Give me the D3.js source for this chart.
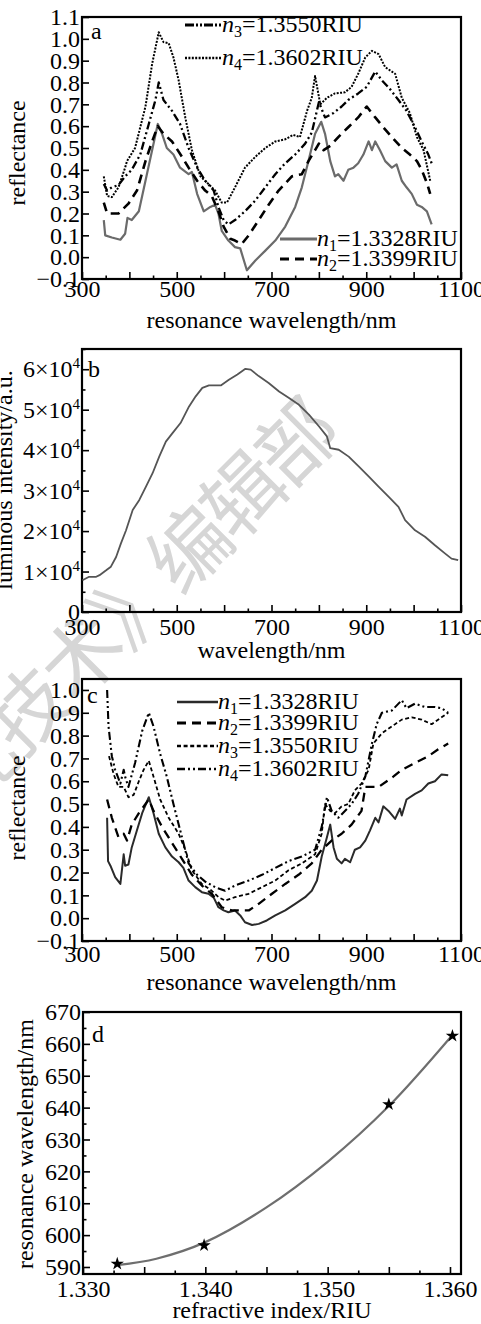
<!DOCTYPE html>
<html>
<head>
<meta charset="utf-8">
<script src="https://cdn.jsdelivr.net/npm/d3@7"></script>
<style>
  body { margin: 0; background: #fff; }
  svg { display: block; font-family: "Liberation Serif", "Times New Roman", serif; }
</style>
</head>
<body>
<svg></svg>
<script>
const width = 481;
const height = 1324;

// ---- data ----
const idx = ["1", "2", "3", "4"];
const riu = ["1.3328", "1.3399", "1.3550", "1.3602"];

// panel a: reflectance vs resonance wavelength
const aN1 = [[346,0.17],[349,0.10],[363,0.09],[381,0.08],[391,0.107],[396,0.18],[405,0.17],[420,0.21],[434,0.35],[448,0.49],[460,0.61],[469,0.565],[479,0.50],[493,0.47],[507,0.41],[525,0.38],[532,0.39],[543,0.29],[557,0.21],[571,0.23],[581,0.24],[588,0.20],[595,0.12],[609,0.076],[623,0.046],[634,0.04],[648,-0.06],[666,-0.015],[687,0.03],[708,0.076],[729,0.14],[750,0.23],[764,0.32],[778,0.44],[792,0.565],[805,0.62],[813,0.565],[824,0.44],[834,0.37],[841,0.38],[852,0.35],[862,0.40],[873,0.41],[883,0.43],[894,0.47],[905,0.53],[912,0.49],[919,0.53],[929,0.49],[940,0.44],[954,0.41],[964,0.425],[975,0.35],[985,0.32],[996,0.29],[1007,0.24],[1017,0.23],[1028,0.21],[1038,0.15]];
const aN2 = [[346,0.25],[353,0.20],[377,0.20],[398,0.245],[416,0.305],[434,0.44],[448,0.53],[460,0.60],[472,0.565],[490,0.53],[511,0.46],[525,0.41],[543,0.35],[560,0.305],[574,0.28],[588,0.21],[599,0.14],[613,0.084],[623,0.076],[637,0.06],[652,0.10],[673,0.17],[694,0.24],[715,0.305],[743,0.37],[764,0.38],[778,0.44],[792,0.49],[800,0.52],[810,0.49],[824,0.51],[841,0.55],[862,0.595],[883,0.64],[901,0.69],[919,0.64],[936,0.595],[954,0.55],[975,0.50],[992,0.47],[1007,0.44],[1017,0.40],[1028,0.34],[1035,0.29]];
const aN3 = [[346,0.335],[353,0.305],[363,0.32],[377,0.33],[391,0.37],[405,0.40],[423,0.47],[441,0.61],[455,0.72],[462,0.80],[472,0.72],[490,0.67],[507,0.61],[525,0.50],[543,0.41],[560,0.35],[578,0.305],[588,0.23],[599,0.17],[609,0.15],[623,0.17],[644,0.21],[666,0.26],[687,0.32],[708,0.38],[729,0.43],[750,0.47],[771,0.52],[785,0.57],[800,0.71],[813,0.64],[831,0.66],[848,0.69],[862,0.72],[883,0.75],[901,0.78],[919,0.85],[933,0.81],[950,0.77],[968,0.72],[985,0.67],[1003,0.595],[1017,0.53],[1031,0.47],[1038,0.43]];
const aN4 = [[346,0.37],[353,0.28],[363,0.275],[377,0.32],[391,0.41],[395,0.44],[412,0.50],[434,0.69],[448,0.885],[462,1.03],[472,0.985],[483,0.98],[493,0.915],[504,0.81],[518,0.64],[532,0.49],[550,0.37],[567,0.335],[581,0.305],[595,0.25],[606,0.25],[623,0.32],[644,0.41],[666,0.46],[687,0.50],[708,0.53],[729,0.54],[746,0.56],[760,0.55],[775,0.67],[785,0.73],[792,0.83],[803,0.70],[817,0.73],[834,0.75],[855,0.755],[869,0.78],[883,0.84],[898,0.915],[912,0.945],[926,0.93],[940,0.87],[961,0.84],[975,0.73],[992,0.66],[1007,0.55],[1021,0.49],[1035,0.35]];

// panel b: luminous intensity of the source
const bLamp = [[301,7850],[315,8700],[330,8700],[337,9100],[351,10300],[361,11200],[372,13600],[382,16900],[393,20200],[407,25200],[421,27700],[435,31000],[449,34300],[463,38400],[477,42100],[491,44200],[508,46700],[526,50800],[540,53300],[554,55400],[568,56000],[593,56000],[610,57400],[628,58700],[645,60100],[656,59900],[673,58300],[694,56600],[716,54500],[737,52900],[758,51200],[779,48800],[800,45900],[817,43400],[824,40500],[842,40100],[863,38400],[884,36000],[905,33500],[926,31000],[947,28500],[968,26000],[982,22700],[1003,20200],[1024,18600],[1045,16500],[1066,14500],[1080,13200],[1094,12800]];

// panel c: reflectance vs resonance wavelength
const cN1 = [[353,0.44],[355,0.25],[360,0.23],[370,0.18],[381,0.15],[388,0.28],[391,0.23],[398,0.235],[405,0.31],[416,0.385],[427,0.46],[441,0.53],[451,0.46],[462,0.37],[476,0.31],[490,0.27],[504,0.245],[514,0.22],[525,0.165],[539,0.136],[553,0.114],[567,0.107],[578,0.09],[588,0.048],[599,0.034],[609,0.026],[623,0.034],[634,0.012],[644,-0.018],[659,-0.03],[673,-0.025],[690,-0.01],[708,0.012],[729,0.034],[750,0.063],[771,0.092],[785,0.12],[796,0.165],[806,0.27],[817,0.355],[824,0.41],[831,0.31],[838,0.26],[848,0.24],[855,0.26],[866,0.245],[876,0.30],[887,0.31],[898,0.34],[908,0.385],[919,0.44],[926,0.42],[936,0.49],[947,0.47],[961,0.435],[971,0.48],[975,0.45],[985,0.52],[1003,0.545],[1017,0.56],[1031,0.59],[1045,0.60],[1059,0.63],[1073,0.626]];
const cN2 = [[353,0.52],[363,0.44],[377,0.355],[388,0.37],[395,0.34],[405,0.41],[420,0.46],[441,0.52],[451,0.47],[469,0.40],[490,0.33],[511,0.26],[532,0.19],[553,0.143],[574,0.107],[595,0.048],[616,0.034],[652,0.034],[673,0.063],[701,0.107],[729,0.15],[757,0.19],[785,0.24],[806,0.30],[827,0.34],[848,0.37],[869,0.41],[890,0.47],[898,0.575],[926,0.575],[957,0.62],[975,0.65],[1003,0.68],[1031,0.71],[1052,0.74],[1073,0.765]];
const cN3 = [[357,0.71],[367,0.63],[377,0.575],[388,0.575],[398,0.53],[409,0.54],[420,0.60],[430,0.65],[441,0.69],[451,0.62],[465,0.52],[483,0.44],[504,0.37],[518,0.30],[532,0.21],[553,0.15],[574,0.12],[588,0.092],[602,0.077],[623,0.092],[652,0.107],[680,0.136],[708,0.165],[736,0.21],[764,0.24],[792,0.28],[806,0.37],[813,0.50],[824,0.47],[834,0.46],[848,0.49],[862,0.50],[876,0.56],[890,0.59],[905,0.65],[915,0.765],[933,0.81],[954,0.84],[975,0.87],[996,0.88],[1017,0.87],[1038,0.85],[1059,0.88],[1073,0.90]];
const cN4 = [[353,1.0],[356,0.84],[363,0.71],[370,0.65],[381,0.59],[388,0.65],[391,0.62],[398,0.575],[412,0.68],[427,0.82],[441,0.90],[451,0.84],[465,0.72],[479,0.62],[493,0.50],[511,0.355],[525,0.24],[543,0.19],[560,0.16],[581,0.136],[602,0.12],[623,0.143],[652,0.165],[680,0.19],[708,0.22],[736,0.25],[764,0.27],[792,0.30],[806,0.40],[817,0.53],[827,0.47],[841,0.44],[855,0.47],[869,0.50],[883,0.545],[898,0.62],[912,0.765],[922,0.85],[933,0.90],[954,0.91],[975,0.955],[985,0.92],[1003,0.94],[1024,0.925],[1045,0.925],[1059,0.92],[1073,0.90]];

// panel d: resonance wavelength vs refractive index
const dIndex = [1.3328, 1.3399, 1.3550, 1.3602];
const dWave = [591.0, 596.8, 641.0, 662.5];
const dFitIndex = [1.3328, 1.336, 1.340, 1.345, 1.350, 1.355, 1.3602];
const dFitWave = [590.6, 592.6, 597.8, 608.7, 623.0, 640.5, 662.8];

// tick values
const wlTicks = d3.range(300, 1101, 50);
const wlLabels = [300, 500, 700, 900, 1100];
const reflTicks = d3.range(-1, 12).map(i => i / 10);
const lumTicks = d3.range(0, 14).map(i => i * 5000);
const riTicks = d3.range(0, 13).map(i => 1.33 + i * 0.0025);
const riLabels = [1.33, 1.34, 1.35, 1.36];
const rwTicks = d3.range(590, 671, 5);

const svg = d3.select("svg").attr("width", width).attr("height", height);

// faint journal watermark behind the plots
svg.append("text")
  .attr("transform", "translate(188,542) rotate(-45)")
  .attr("x", -500)
  .attr("dominant-baseline", "central")
  .style("font-family", '"Noto Sans CJK SC"')
  .style("font-size", "80px")
  .style("letter-spacing", "-4px")
  .style("fill", "#d6d6d6")
  .text("《激光技术》编辑部");

const near = (list, d) => list.some(v => Math.abs(v - d) < 1e-9);

function panel(o) {
  const x = d3.scaleLinear().domain(o.xDom).range([o.x0, o.x1]);
  const y = d3.scaleLinear().domain(o.yDom).range([o.y1, o.y0]);
  const g = svg.append("g");

  const clipId = "clip" + o.name;
  svg.append("clipPath").attr("id", clipId)
    .append("rect").attr("x", o.x0).attr("y", o.y0)
    .attr("width", o.x1 - o.x0).attr("height", o.y1 - o.y0);

  // x ticks: minor + major, labels on a subset
  const xt = o.xTicks.map((d, i) => ({ d, major: i % 2 === 0 }));
  const xg = g.append("g").attr("transform", `translate(0,${o.y1})`)
    .call(d3.axisBottom(x).tickValues(o.xTicks)
      .tickSize(-3.5).tickPadding(o.xPad)
      .tickFormat(d => near(o.xLabels, d) ? o.xFmt(d) : ""));
  xg.selectAll(".tick line").attr("y2", (d, i) => xt[i].major ? -7 : -3.5);

  const yg = g.append("g").attr("transform", `translate(${o.x0},0)`)
    .call(d3.axisLeft(y).tickValues(o.yTicks)
      .tickSize(-7).tickPadding(2)
      .tickFormat(d => o.yMajor(d) ? o.yFmt(d) : ""));
  yg.selectAll(".tick line").attr("x2", d => o.yMajor(d) ? 7 : 3.5);

  for (const ax of [xg, yg]) {
    ax.select(".domain").remove();
    ax.selectAll(".tick line").attr("stroke", "#000").attr("stroke-width", 1.6);
    ax.selectAll(".tick text").attr("fill", "#000")
      .style("font-size", "24px").style("font-family", '"Liberation Serif", serif');
  }

  g.append("rect").attr("x", o.x0).attr("y", o.y0)
    .attr("width", o.x1 - o.x0).attr("height", o.y1 - o.y0)
    .attr("fill", "none").attr("stroke", "#000").attr("stroke-width", 2.2);

  g.append("text").attr("x", o.tag[1]).attr("y", o.tag[2])
    .style("font-size", "24px").text(o.tag[0]);

  g.append("text").attr("x", (o.x0 + o.x1) / 2).attr("y", o.y1 + o.xTitleDy)
    .attr("text-anchor", "middle").style("font-size", "24px").text(o.xTitle);

  g.append("text")
    .attr("transform", `translate(${o.yTitleX},${o.yTitleY}) rotate(-90)`)
    .attr("text-anchor", "middle").style("font-size", "24px").text(o.yTitle);

  const plot = svg.append("g").attr("clip-path", `url(#${clipId})`);
  return { x, y, g, yg, plot };
}

function drawLine(p, data, st) {
  p.plot.append("path")
    .datum(data)
    .attr("fill", "none")
    .attr("stroke", st.color)
    .attr("stroke-width", st.width)
    .attr("stroke-dasharray", st.dash)
    .attr("stroke-linejoin", "round")
    .attr("d", d3.line().curve(st.curve || d3.curveLinear)
      .x(d => p.x(d[0])).y(d => p.y(d[1])));
}

function legendItem(g, x0, x1, y, st, i) {
  g.append("line").attr("x1", x0).attr("x2", x1).attr("y1", y).attr("y2", y)
    .attr("stroke", st.color).attr("stroke-width", st.lw || st.width + 0.6)
    .attr("stroke-dasharray", st.ldash || st.dash);
  const t = g.append("text").attr("x", x1).attr("y", y + 7).style("font-size", "24px");
  t.append("tspan").style("font-style", "italic").text("n");
  t.append("tspan").attr("dy", 5).style("font-size", "16px").text(idx[i]);
  t.append("tspan").attr("dy", -5).text("=" + riu[i] + "RIU");
}

// ---------- panel a ----------
const styleA = [
  { color: "#6b6b6b", width: 2.2, dash: null },
  { color: "#000", width: 2.6, dash: "9,6" },
  { color: "#000", width: 2.3, dash: "8,3,2,3,2,3", ldash: "9,2,2,2,2,2" },
  { color: "#000", width: 2.0, dash: "2,1.4" }
];
const pa = panel({
  name: "a", x0: 82, x1: 461, y0: 17, y1: 279,
  xDom: [300, 1100], yDom: [-0.1, 1.1],
  xTicks: wlTicks, xLabels: wlLabels, xFmt: d3.format("d"), xPad: 1,
  yTicks: reflTicks, yMajor: () => true, yFmt: d3.format(".1f"),
  tag: ["a", 91, 39],
  xTitle: "resonance wavelength/nm", xTitleDy: 49,
  yTitle: "reflectance", yTitleX: 25, yTitleY: 153
});
[aN1, aN2, aN3, aN4].forEach((s, i) => drawLine(pa, s, styleA[i]));
legendItem(pa.g, 185, 222, 25, styleA[2], 2);
legendItem(pa.g, 185, 222, 58, styleA[3], 3);
legendItem(pa.g, 280, 317, 239, styleA[0], 0);
legendItem(pa.g, 280, 317, 259, styleA[1], 1);

// ---------- panel b ----------
const pb = panel({
  name: "b", x0: 82, x1: 461, y0: 349, y1: 612,
  xDom: [300, 1100], yDom: [0, 65000],
  xTicks: wlTicks, xLabels: wlLabels, xFmt: d3.format("d"), xPad: 6,
  yTicks: lumTicks, yMajor: d => d % 10000 === 0,
  yFmt: d => d === 0 ? "0" : (d / 10000) + "×10",
  tag: ["b", 88, 377],
  xTitle: "wavelength/nm", xTitleDy: 46,
  yTitle: "luminous intensity/a.u.", yTitleX: 12, yTitleY: 480
});
pb.yg.selectAll(".tick text").filter(d => d > 0 && d % 10000 === 0)
  .append("tspan").attr("dy", -9).style("font-size", "15px").text("4");
drawLine(pb, bLamp, { color: "#555", width: 1.8, dash: null });

// ---------- panel c ----------
const styleC = [
  { color: "#2a2a2a", width: 2.0, dash: null },
  { color: "#000", width: 2.3, dash: "9,6" },
  { color: "#000", width: 1.8, dash: "4,2.6" },
  { color: "#000", width: 2.1, dash: "8,3,2,3,2,3" }
];
const pc = panel({
  name: "c", x0: 82, x1: 461, y0: 679, y1: 941,
  xDom: [300, 1100], yDom: [-0.1, 1.048],
  xTicks: wlTicks, xLabels: wlLabels, xFmt: d3.format("d"), xPad: 4,
  yTicks: reflTicks.filter(d => d <= 1.0), yMajor: () => true, yFmt: d3.format(".1f"),
  tag: ["c", 87, 703],
  xTitle: "resonance wavelength/nm", xTitleDy: 49,
  yTitle: "reflectance", yTitleX: 25, yTitleY: 808
});
[cN1, cN2, cN3, cN4].forEach((s, i) => drawLine(pc, s, styleC[i]));
[702, 723, 746, 769].forEach((yy, i) => legendItem(pc.g, 177, 218, yy, styleC[i], i));

// ---------- panel d ----------
const pd = panel({
  name: "d", x0: 83, x1: 461, y0: 1012, y1: 1274,
  xDom: [1.33, 1.3609], yDom: [587.8, 670],
  xTicks: riTicks, xLabels: riLabels, xFmt: d3.format(".3f"), xPad: 6,
  yTicks: rwTicks, yMajor: d => d % 10 === 0, yFmt: d3.format("d"),
  tag: ["d", 92, 1042],
  xTitle: "refractive index/RIU", xTitleDy: 44,
  yTitle: "resonance wavelength/nm", yTitleX: 33, yTitleY: 1144
});
drawLine(pd, dFitIndex.map((v, i) => [v, dFitWave[i]]),
  { color: "#6e6e6e", width: 2.2, dash: null, curve: d3.curveCatmullRom });
pd.plot.selectAll(null)
  .data(dIndex.map((v, i) => [v, dWave[i]]))
  .join("path")
  .attr("transform", d => `translate(${pd.x(d[0])},${pd.y(d[1])})`)
  .attr("d", d3.symbol(d3.symbolStar, 55))
  .attr("fill", "#000");
</script>
</body>
</html>
